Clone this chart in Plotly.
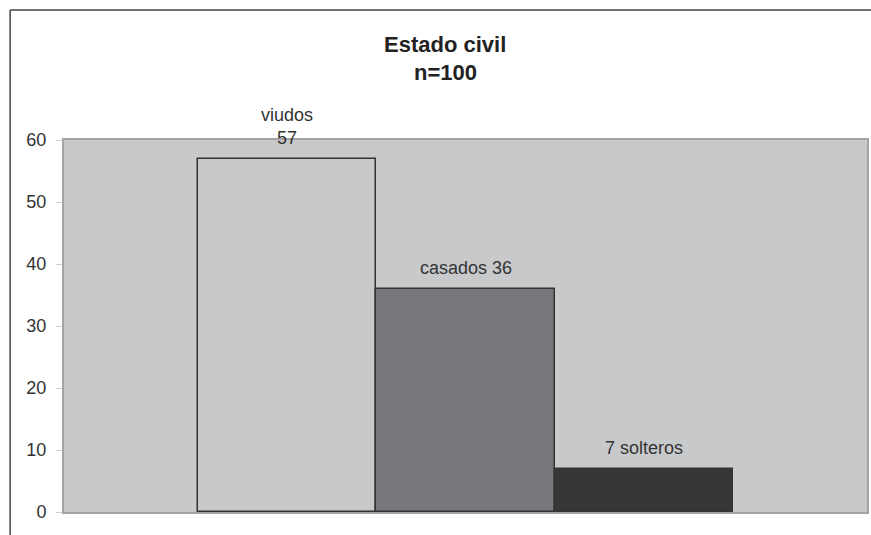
import plotly.graph_objects as go

# Estado civil, n=100
categorias = ["viudos", "casados", "solteros"]
valores = [57, 36, 7]
etiquetas = ["viudos<br>57", "casados 36", "7 solteros"]
colores = ["#c8c9cb", "#77787b", "#363636"]
posiciones = [1, 2, 3]
ticks_y = [0, 10, 20, 30, 40, 50, 60]
titulo = ["Estado civil", "n=100"]

W, H = 871, 535
ML, MR, MT, MB = 64, 2, 140, 23
pw, ph = W - ML - MR, H - MT - MB
FONT = "Liberation Sans, Arial"


def px_x(x):
    return (x - ML) / pw


def px_y(y):
    return 1 + (MT - y) / ph


fig = go.Figure()
fig.add_trace(go.Bar(
    x=posiciones, y=valores, width=1.0,
    marker=dict(color=colores, line=dict(color="#333333", width=1.5)),
    hoverinfo="skip", showlegend=False,
))

# value labels above each bar
for xp, v, t in zip(posiciones, valores, etiquetas):
    fig.add_annotation(x=xp, y=v, text=t, showarrow=False, yanchor="bottom",
                       yshift=9, font=dict(family=FONT, size=18, color="#333333"))

# two-line bold title
for texto, yp in zip(titulo, [44, 73]):
    fig.add_annotation(xref="paper", yref="paper", x=px_x(446), y=px_y(yp),
                       text=f"<b>{texto}</b>", showarrow=False,
                       xanchor="center", yanchor="middle",
                       font=dict(family=FONT, size=22, color="#222222"))

# outer chart frame (left and top edges)
fig.add_shape(type="line", xref="paper", yref="paper", x0=px_x(10), x1=px_x(10),
              y0=px_y(10), y1=-1, line=dict(color="#444444", width=1.5))
fig.add_shape(type="line", xref="paper", yref="paper", x0=px_x(10), x1=2,
              y0=px_y(10), y1=px_y(10), line=dict(color="#444444", width=1.5))

fig.update_layout(
    width=W, height=H,
    margin=dict(l=ML, r=MR, t=MT, b=MB),
    paper_bgcolor="white", plot_bgcolor="#c8c9cb",
    xaxis=dict(range=[-0.25, 4.25], showticklabels=False, ticks="", showgrid=False,
               zeroline=False, showline=True, mirror=True, linecolor="#a3a3a3", linewidth=2),
    yaxis=dict(range=[0, 60], tickvals=ticks_y, showgrid=False, zeroline=False,
               ticks="outside", ticklen=6, tickcolor="#d0d0d0", tickwidth=1,
               ticklabelstandoff=6,
               showline=True, mirror=True, linecolor="#a3a3a3", linewidth=2,
               tickfont=dict(family=FONT, size=18, color="#333333")),
    bargap=0,
)

fig.write_html("out.html")
